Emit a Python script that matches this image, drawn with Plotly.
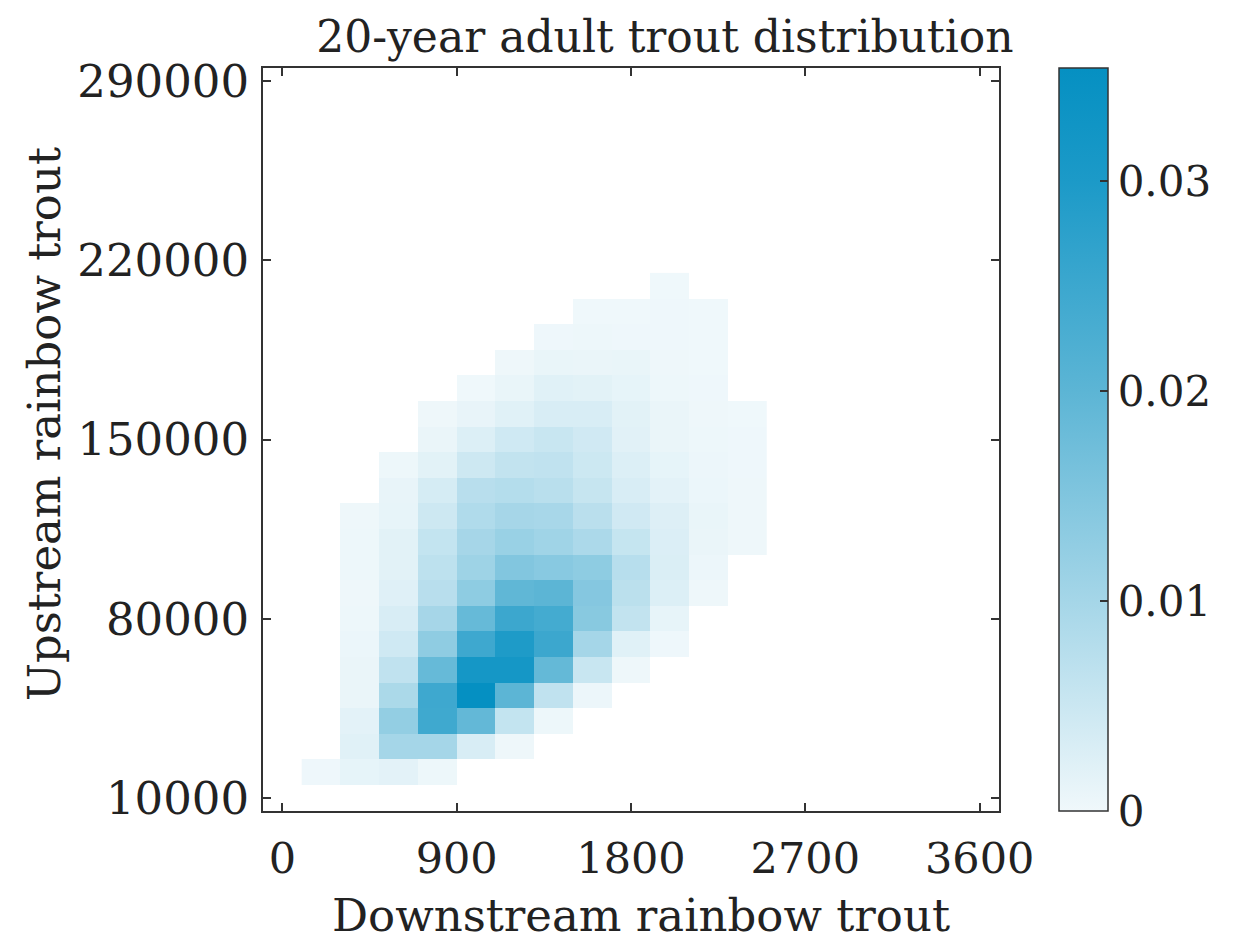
import plotly.graph_objects as go

# Bin centres (bin widths: 200 fish downstream, 10000 fish upstream)
x_centers = [200, 400, 600, 800, 1000, 1200, 1400, 1600, 1800, 2000, 2200, 2400]
y_centers = [20000, 30000, 40000, 50000, 60000, 70000, 80000, 90000, 100000, 110000,
             120000, 130000, 140000, 150000, 160000, 170000, 180000, 190000, 200000, 210000]

N = None
# probability per cell, rows from bottom (20000) to top (210000)
row_20k  = [0.0002, 0.0013, 0.0017, 0.0004, N, N, N, N, N, N, N, N]
row_30k  = [N, 0.0021, 0.0100, 0.0100, 0.0032, 0.0003, N, N, N, N, N, N]
row_40k  = [N, 0.0017, 0.0124, 0.0245, 0.0190, 0.0060, 0.0004, N, N, N, N, N]
row_50k  = [N, 0.0008, 0.0092, 0.0247, 0.0354, 0.0200, 0.0064, 0.0005, N, N, N, N]
row_60k  = [N, 0.0008, 0.0064, 0.0186, 0.0316, 0.0316, 0.0189, 0.0053, 0.0003, N, N, N]
row_70k  = [N, 0.0007, 0.0044, 0.0130, 0.0247, 0.0297, 0.0250, 0.0100, 0.0021, 0.0002, N, N]
row_80k  = [N, 0.0004, 0.0032, 0.0099, 0.0186, 0.0250, 0.0238, 0.0140, 0.0061, 0.0012, N, N]
row_90k  = [N, 0.0003, 0.0023, 0.0075, 0.0131, 0.0194, 0.0200, 0.0144, 0.0071, 0.0027, 0.0003, N]
row_100k = [N, 0.0004, 0.0019, 0.0068, 0.0110, 0.0148, 0.0139, 0.0131, 0.0076, 0.0029, 0.0005, N]
row_110k = [N, 0.0004, 0.0019, 0.0060, 0.0099, 0.0116, 0.0107, 0.0091, 0.0057, 0.0028, 0.0008, 0.0003]
row_120k = [N, 0.0003, 0.0012, 0.0047, 0.0085, 0.0099, 0.0096, 0.0072, 0.0043, 0.0025, 0.0009, 0.0003]
row_130k = [N, N, 0.0011, 0.0036, 0.0075, 0.0080, 0.0073, 0.0056, 0.0032, 0.0017, 0.0007, 0.0003]
row_140k = [N, N, 0.0004, 0.0019, 0.0047, 0.0061, 0.0064, 0.0048, 0.0027, 0.0013, 0.0005, 0.0002]
row_150k = [N, N, N, 0.0008, 0.0027, 0.0044, 0.0053, 0.0043, 0.0020, 0.0008, 0.0004, 0.0002]
row_160k = [N, N, N, 0.0003, 0.0011, 0.0021, 0.0032, 0.0032, 0.0019, 0.0008, 0.0003, 0.0001]
row_170k = [N, N, N, N, 0.0001, 0.0009, 0.0021, 0.0019, 0.0013, 0.0004, 0.0002, N]
row_180k = [N, N, N, N, N, 0.0003, 0.0009, 0.0008, 0.0009, 0.0003, 0.0001, N]
row_190k = [N, N, N, N, N, N, 0.0002, 0.0004, 0.0002, 0.0002, 0.0001, N]
row_200k = [N, N, N, N, N, N, N, 0.0001, 0.0001, 0.0002, 0.0001, N]
row_210k = [N, N, N, N, N, N, N, N, N, 0.0001, N, N]

z = [row_20k, row_30k, row_40k, row_50k, row_60k, row_70k, row_80k, row_90k, row_100k,
     row_110k, row_120k, row_130k, row_140k, row_150k, row_160k, row_170k, row_180k,
     row_190k, row_200k, row_210k]

x_ticks = [0, 900, 1800, 2700, 3600]
x_labels = ["0", "900", "1800", "2700", "3600"]
y_ticks = [10000, 80000, 150000, 220000, 290000]
y_labels = ["10000", "80000", "150000", "220000", "290000"]
cb_ticks = [0, 0.01, 0.02, 0.03]
cb_labels = ["0", "0.01", "0.02", "0.03"]

FONT = "DejaVu Serif"
AX = "#333333"
TXT = "#222222"

colorscale = [
    [0.0, "#f0f8fb"],
    [0.282, "#a5d6e8"],
    [0.565, "#5cb5d5"],
    [0.847, "#1c9ac8"],
    [1.0, "#0590c2"],
]

fig = go.Figure(go.Heatmap(
    x=x_centers, y=y_centers, z=z,
    zmin=0, zmax=0.0354,
    colorscale=colorscale,
    hoverongaps=False,
    colorbar=dict(
        x=1.0815, xanchor="left", xref="paper", xpad=0, ypad=0,
        y=0.5, yanchor="middle", len=1.0, lenmode="fraction",
        thickness=49, thicknessmode="pixels",
        outlinewidth=1.5, outlinecolor=AX,
        ticks="inside", ticklen=8, tickwidth=1.5, tickcolor=AX,
        tickvals=cb_ticks, ticktext=cb_labels,
        tickfont=dict(family=FONT, size=42, color=TXT),
    ),
))

axis_common = dict(
    ticks="inside", ticklen=8, tickwidth=1.5, tickcolor=AX,
    showline=True, linecolor=AX, linewidth=1.8, mirror="ticks",
    showgrid=False, zeroline=False,
)

W, H = 1235, 944  # page adds an 8px body margin
fig.update_layout(
    width=W, height=H, autosize=False,
    margin=dict(l=255, r=244, t=60, b=141),
    plot_bgcolor="white", paper_bgcolor="white",
    font=dict(family=FONT, size=42, color=TXT),
    title=dict(text="20-year adult trout distribution", x=0.546, xref="paper",
               xanchor="center", y=1 - 29 / H, yref="container", yanchor="middle",
               font=dict(family=FONT, size=44, color=TXT)),
    xaxis=dict(range=[-100, 3700], tickvals=x_ticks, ticktext=x_labels,
               ticklabelstandoff=8,
               tickfont=dict(family=FONT, size=43, color=TXT),
               **axis_common),
    yaxis=dict(range=[5000, 295000], tickvals=y_ticks, ticktext=y_labels,
               ticklabelstandoff=3,
               tickfont=dict(family=FONT, size=45, color=TXT),
               **axis_common),
    annotations=[
        dict(text="Upstream rainbow trout", textangle=-90,
             xref="paper", yref="paper", x=-0.296, y=0.521,
             xanchor="center", yanchor="middle", showarrow=False,
             font=dict(family=FONT, size=45, color=TXT)),
        dict(text="Downstream rainbow trout",
             xref="paper", yref="paper", x=0.514, y=-0.140,
             xanchor="center", yanchor="middle", showarrow=False,
             font=dict(family=FONT, size=45, color=TXT)),
    ],
)

fig.write_html("out.html")
